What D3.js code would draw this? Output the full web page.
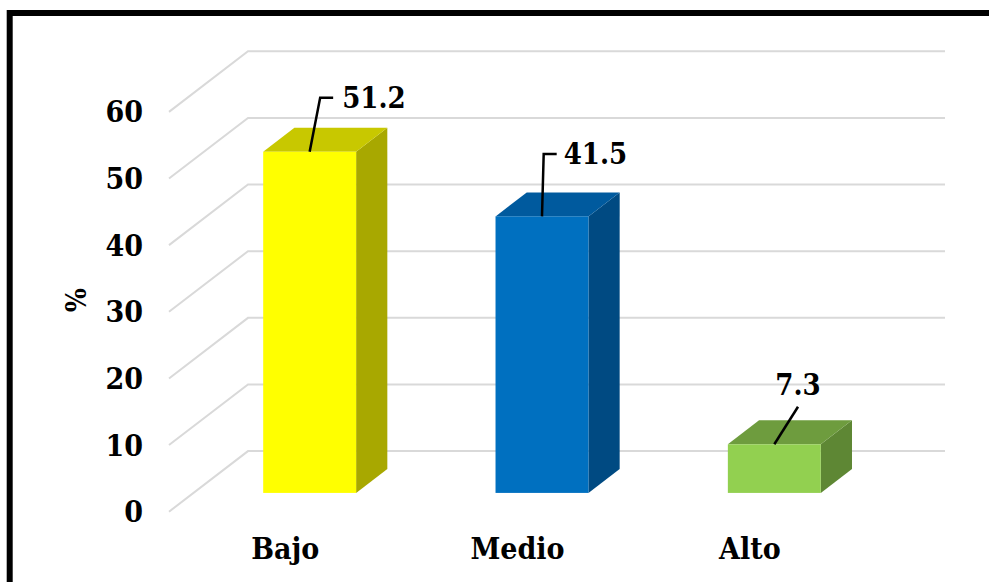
<!DOCTYPE html>
<html>
<head>
<meta charset="utf-8">
<script src="https://cdn.jsdelivr.net/npm/d3@7"></script>
<style>
  html, body { margin: 0; padding: 0; background: #fff; overflow: hidden; }
  svg text { font-stretch: condensed; }
</style>
</head>
<body>
<div id="chart"></div>
<script>
// data
var categories = ["Bajo", "Medio", "Alto"];
var values = [51.2, 41.5, 7.3];
var yTicks = [0, 10, 20, 30, 40, 50, 60];
var axisTitle = "%";

// colours per bar: front, top, side
var fronts = ["#ffff00", "#0070c0", "#92d050"];
var tops   = ["#c8c800", "#005a9e", "#6e9c3e"];
var sides  = ["#a8a800", "#004a82", "#5e8734"];

// label leader layout relative to top-front centre of bar
var labelLayout = [
  {ex: 10.5, ey: -54, hook: 13, tx: 22, anchor: "start"},
  {ex: 1.7, ey: -62.5, hook: 13, tx: 20, anchor: "start"},
  {ex: 23.7, ey: -37.5, hook: 0, tx: 0, ty: -22, anchor: "middle"}
];

var W = 989, H = 582;
var DX = 79, DY = 60.6;      // floor depth in screen
var z0 = 0.31, z1 = 0.705;   // bar depth within floor
var FONT = "'DejaVu Serif Condensed', 'DejaVu Serif', serif";

var svg = d3.select("#chart").append("svg")
  .attr("width", W)
  .attr("height", H)
  .attr("font-family", FONT)
  .attr("font-weight", "bold");

var x = d3.scaleBand()
  .domain(categories)
  .range([169, 866])
  .paddingInner(0.6)
  .paddingOuter(0.3);

var y = d3.scaleLinear()
  .domain([0, 60])
  .range([511.7, 111.9]);

// project point on the front plane to depth z
function px(xx, z) { return xx + z * DX; }
function py(yy, z) { return yy - z * DY; }

// gridlines (floor side + back wall)
svg.append("g").selectAll("path")
  .data(yTicks)
  .enter().append("path")
    .attr("d", d => "M" + x.range()[0] + "," + y(d) +
      "L" + px(x.range()[0], 1) + "," + py(y(d), 1) +
      "L" + px(x.range()[1], 1) + "," + py(y(d), 1))
    .attr("fill", "none")
    .attr("stroke", "#d9d9d9")
    .attr("stroke-width", 2);

// tick labels
svg.append("g").selectAll("text")
  .data(yTicks)
  .enter().append("text")
    .attr("x", 143)
    .attr("y", d => y(d))
    .attr("text-anchor", "end")
    .attr("dominant-baseline", "central")
    .attr("font-size", "30px")
    .text(d => d);

// axis title
svg.append("text")
  .attr("transform", "translate(76,300) rotate(-90)")
  .attr("text-anchor", "middle")
  .attr("dominant-baseline", "central")
  .attr("font-size", "28px")
  .text(axisTitle);

// bars
var bars = svg.append("g").selectAll("g")
  .data(values)
  .enter().append("g");

function poly(pts) { return "M" + pts.map(p => p.join(",")).join("L") + "Z"; }

bars.each(function(v, i) {
  var g = d3.select(this);
  var xl = x(categories[i]), xr = xl + x.bandwidth();
  var yt = y(v), yb = y(0);
  // side
  g.append("path")
    .attr("d", poly([[px(xr, z0), py(yt, z0)], [px(xr, z1), py(yt, z1)],
                     [px(xr, z1), py(yb, z1)], [px(xr, z0), py(yb, z0)]]))
    .attr("fill", sides[i]);
  // top
  g.append("path")
    .attr("d", poly([[px(xl, z0), py(yt, z0)], [px(xl, z1), py(yt, z1)],
                     [px(xr, z1), py(yt, z1)], [px(xr, z0), py(yt, z0)]]))
    .attr("fill", tops[i]);
  // front
  g.append("rect")
    .attr("x", px(xl, z0))
    .attr("y", py(yt, z0))
    .attr("width", x.bandwidth())
    .attr("height", yb - yt)
    .attr("fill", fronts[i]);

  // data label with leader line
  var L = labelLayout[i];
  var cx = px(xl + x.bandwidth() / 2, z0), cy = py(yt, z0);
  var ex = cx + L.ex, ey = cy + L.ey;
  g.append("path")
    .attr("d", "M" + cx + "," + cy + "L" + ex + "," + ey + (L.hook ? "L" + (ex + L.hook) + "," + ey : ""))
    .attr("fill", "none")
    .attr("stroke", "#000")
    .attr("stroke-width", 2.5);
  g.append("text")
    .attr("x", ex + L.tx)
    .attr("y", ey + (L.ty || 0))
    .attr("text-anchor", L.anchor)
    .attr("dominant-baseline", "central")
    .attr("font-size", "29px")
    .text(d3.format(".1f")(v));
});

// category labels
svg.append("g").selectAll("text")
  .data(categories)
  .enter().append("text")
    .attr("x", d => x(d) + x.bandwidth() / 2)
    .attr("y", 548)
    .attr("text-anchor", "middle")
    .attr("dominant-baseline", "central")
    .attr("font-size", "30px")
    .text(d => d);

// outer frame
svg.append("rect")
  .attr("x", 9.7)
  .attr("y", 13)
  .attr("width", W + 20)
  .attr("height", H + 20)
  .attr("fill", "none")
  .attr("stroke", "#000")
  .attr("stroke-width", 6);
</script>
</body>
</html>
